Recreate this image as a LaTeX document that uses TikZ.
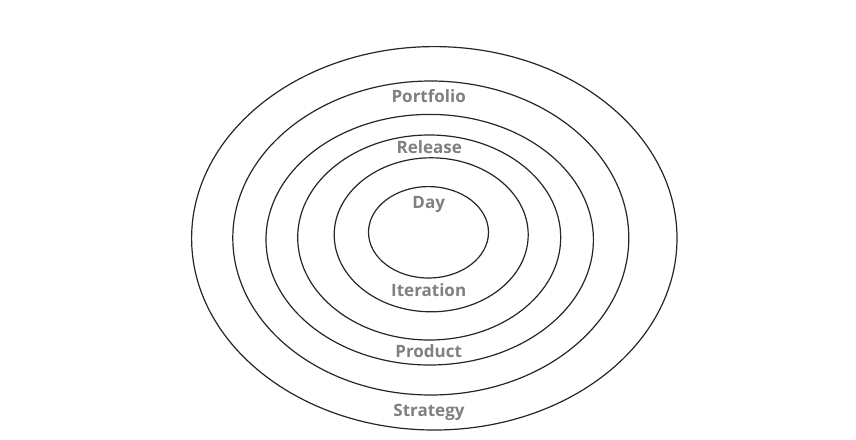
\documentclass[tikz,border=0pt]{standalone}
\usepackage{fontspec}
\setmainfont{Open Sans}
\begin{document}
\begin{tikzpicture}[x=1pt,y=-1pt,
  ring/.style={draw=black!85,line width=1.2pt},
  lbl/.style={anchor=base,text=black!50,font=\fontsize{17}{20}\selectfont\bfseries,inner sep=0pt}]
\useasboundingbox[fill=white] (0,0) rectangle (856,439);
\draw[ring] (434.3,238.3) ellipse [x radius=242.7pt, y radius=191.7pt];
\draw[ring] (430.8,238) ellipse [x radius=198pt, y radius=157pt];
\draw[ring] (429.7,239.7) ellipse [x radius=163.7pt, y radius=125.3pt];
\draw[ring] (429.2,237.5) ellipse [x radius=131.5pt, y radius=102.5pt];
\draw[ring] (431.2,234.8) ellipse [x radius=97pt, y radius=77pt];
\draw[ring] (428.5,232.3) ellipse [x radius=60pt, y radius=45.7pt];
\node[lbl] (portfolio) at (428.7,102) {Portfolio};
\node[lbl] (release) at (429.3,153) {Release};
\node[lbl] (day) at (428.7,208.5) {Day};
\node[lbl] (iteration) at (428.7,296.5) {Iteration};
\node[lbl] (product) at (428.7,357.5) {Product};
\node[lbl] (strategy) at (429,416.5) {Strategy};
\end{tikzpicture}
\end{document}
